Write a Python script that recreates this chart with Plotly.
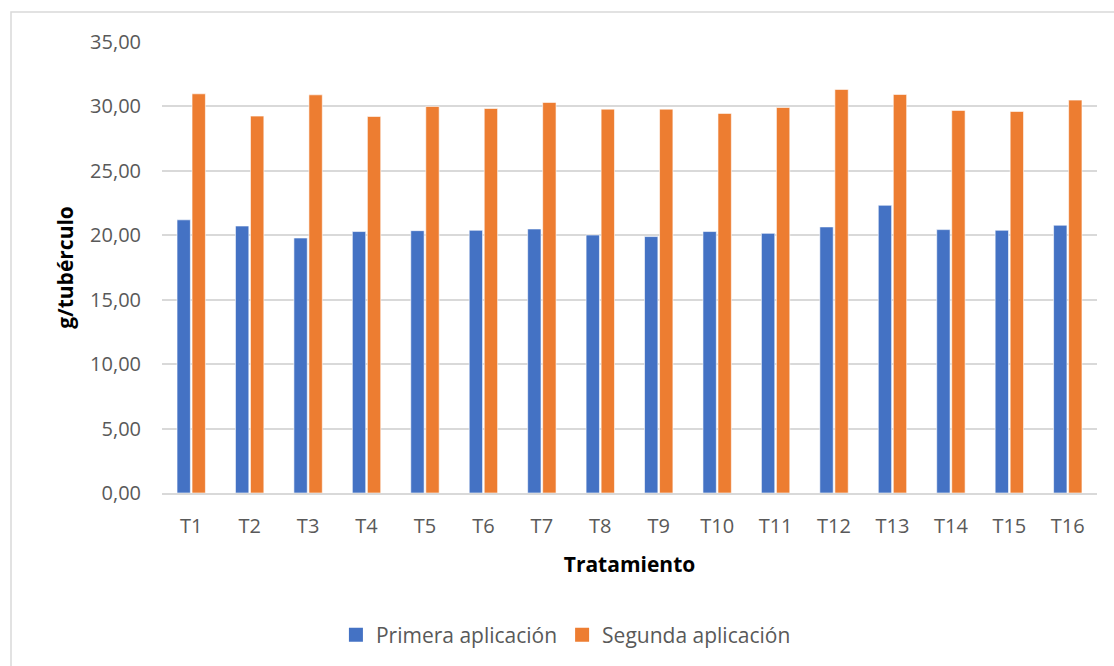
import plotly.graph_objects as go

tratamientos = ["T1", "T2", "T3", "T4", "T5", "T6", "T7", "T8",
                "T9", "T10", "T11", "T12", "T13", "T14", "T15", "T16"]
primera = [21.20, 20.72, 19.79, 20.29, 20.36, 20.39, 20.49, 20.02,
           19.90, 20.29, 20.15, 20.65, 22.33, 20.44, 20.39, 20.78]
segunda = [30.98, 29.25, 30.90, 29.22, 30.00, 29.84, 30.31, 29.79,
           29.79, 29.46, 29.92, 31.32, 30.93, 29.69, 29.61, 30.49]
y_ticks = [0, 5, 10, 15, 20, 25, 30, 35]

FONT = "Open Sans"
GRAY = "#595959"
GRID = "#d9d9d9"
BLUE = "#4472C4"
ORANGE = "#ED7D31"

fig = go.Figure()
for nombre, valores, color in [("Primera aplicación", primera, BLUE),
                               ("Segunda aplicación", segunda, ORANGE)]:
    fig.add_trace(go.Bar(
        x=tratamientos, y=valores, name=nombre, showlegend=False,
        marker=dict(color=color, line=dict(color="rgba(255,255,255,0.6)", width=1)),
    ))
# square legend keys
for nombre, color in [("Primera aplicación", BLUE), ("Segunda aplicación", ORANGE)]:
    fig.add_trace(go.Scatter(
        x=[None], y=[None], mode="markers", name=nombre,
        marker=dict(symbol="square", size=14, color=color),
    ))

fig.update_layout(
    width=1114, height=666,
    margin=dict(l=162, r=17, t=42, b=172),
    paper_bgcolor="white", plot_bgcolor="white",
    barmode="group", bargap=0.486, bargroupgap=0.11,
    separators=",.",
    font=dict(family=FONT, color=GRAY, size=20),
    legend=dict(
        orientation="h", x=0.432, xanchor="center", y=-0.312, yanchor="middle",
        font=dict(family=FONT, size=21, color=GRAY),
        itemwidth=30, tracegroupgap=0,
    ),
    showlegend=True,
    shapes=[dict(
        type="rect", xref="paper", yref="paper",
        x0=-0.1615, x1=1.2, y0=-0.6, y1=1.0664,
        line=dict(color=GRID, width=1.5), layer="below",
    )],
)

fig.update_xaxes(
    type="category",
    showline=True, linecolor=GRID, linewidth=1.5,
    ticks="", showgrid=False,
    tickfont=dict(family=FONT, size=20, color=GRAY),
    ticklabelstandoff=14,
    title=dict(text="<b>Tratamiento</b>", font=dict(family=FONT, size=21, color="black"),
               standoff=20),
)
fig.update_yaxes(
    range=[0, 35], tickvals=y_ticks, tickformat=".2f",
    showgrid=True, gridcolor=GRID, gridwidth=1.5,
    zeroline=False, showline=False, ticks="",
    tickfont=dict(family=FONT, size=20, color=GRAY),
    ticklabelstandoff=20,
    title=dict(text="<b>g/tubérculo</b>", font=dict(family=FONT, size=21, color="black"),
               standoff=10),
)

fig.write_html("out.html")
